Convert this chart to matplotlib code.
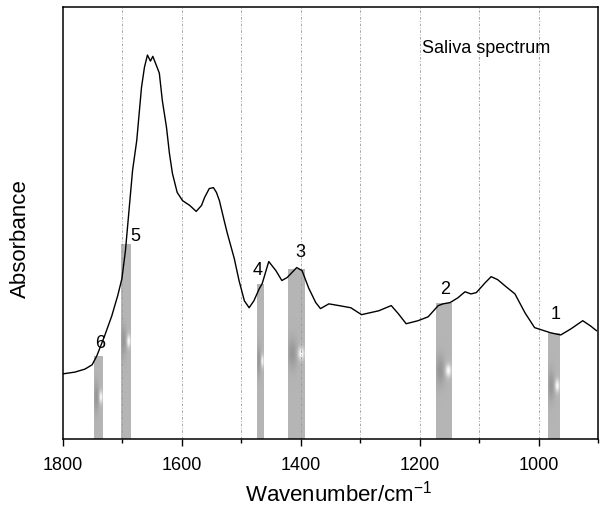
import matplotlib
matplotlib.use("Agg")
import matplotlib.pyplot as plt
import numpy as np

plt.rcParams['font.family'] = ['Liberation Sans', 'DejaVu Sans']

# saliva FTIR spectrum
wavenumber = [1800, 1780, 1763, 1751, 1743, 1730, 1718, 1708, 1701, 1695,
              1688, 1683, 1676, 1668, 1663, 1658, 1653, 1649, 1643, 1638,
              1633, 1626, 1621, 1616, 1608, 1599, 1587, 1576, 1567, 1562,
              1554, 1547, 1542, 1537, 1529, 1524, 1512, 1504, 1495, 1487,
              1479, 1470, 1465, 1454, 1442, 1432, 1423, 1407, 1398, 1387,
              1375, 1367, 1353, 1336, 1316, 1298, 1269, 1248, 1236, 1223,
              1203, 1186, 1169, 1161, 1149, 1136, 1124, 1114, 1105, 1090,
              1080, 1069, 1057, 1040, 1023, 1007, 980, 963, 946, 926,
              913, 903]
absorbance = [0.151, 0.155, 0.162, 0.172, 0.193, 0.239, 0.285, 0.332, 0.371, 0.436,
              0.545, 0.622, 0.691, 0.814, 0.861, 0.889, 0.875, 0.886, 0.865, 0.847,
              0.784, 0.722, 0.661, 0.615, 0.571, 0.552, 0.541, 0.527, 0.541, 0.559,
              0.580, 0.582, 0.571, 0.552, 0.506, 0.478, 0.418, 0.367, 0.320, 0.304,
              0.320, 0.348, 0.360, 0.411, 0.390, 0.367, 0.374, 0.397, 0.390, 0.350,
              0.316, 0.302, 0.313, 0.309, 0.304, 0.288, 0.297, 0.309, 0.290, 0.267,
              0.274, 0.283, 0.309, 0.313, 0.316, 0.327, 0.341, 0.336, 0.339, 0.362,
              0.376, 0.369, 0.355, 0.336, 0.292, 0.258, 0.246, 0.241, 0.255, 0.274,
              0.262, 0.251]

# marked bands: label, high / low wavenumber edge, bar height
band_labels = ['6', '5', '4', '3', '2', '1']
band_hi = [1748, 1702, 1474, 1421, 1173, 985]
band_lo = [1733, 1686, 1463, 1394, 1147, 965]
band_top = [0.193, 0.452, 0.360, 0.394, 0.316, 0.246]
label_offset = [(1, 9), (7, 5), (-1.5, 9.5), (3, 11.5), (1, 9.5), (1.5, 13.5)]

fig = plt.figure(figsize=(6, 5.07), dpi=100)
ax = fig.add_axes([0.105, 0.134, 0.892, 0.852])

# grey bars with a little highlight glint in the middle
for lab, hi, lo, top, off in zip(band_labels, band_hi, band_lo, band_top, label_offset):
    bar = ax.bar((hi + lo) / 2, top, width=hi - lo, bottom=0,
                 color='#b5b5b5', linewidth=0, zorder=1)[0]
    u = np.linspace(0, 1, 40)[None, :]
    v = np.linspace(0, top, 300)[:, None] - top / 2
    g = (0.71
         + 0.29 * np.exp(-((u - 0.78) / 0.18) ** 2 - (v / 0.014) ** 2)
         - 0.12 * np.exp(-((u - 0.25) / 0.3) ** 2 - (v / 0.035) ** 2))
    g = np.clip(g, 0, 1)
    img = np.dstack([g, g, g])
    im = ax.imshow(img, extent=[hi, lo, 0, top], origin='lower',
                   aspect='auto', interpolation='bilinear', zorder=1.5)
    im.set_clip_path(bar)
    ax.annotate(lab, xy=((hi + lo) / 2, top), xytext=off,
                textcoords='offset points', ha='center', va='center',
                fontsize=13, zorder=4)

ax.plot(wavenumber, absorbance, color='black', lw=1.0, zorder=3)

for w in range(1000, 1800, 100):
    ax.axvline(w, color='#999999', lw=0.6, ls=(0, (3, 2, 1, 2)), zorder=2)

ax.set_xlim(1800, 900)
ax.set_ylim(0, 1)
ax.set_xticks([1800, 1600, 1400, 1200, 1000])
ax.set_xticks([1700, 1500, 1300, 1100, 900], minor=True)
ax.set_yticks([])
ax.tick_params(axis='x', which='major', direction='out', length=5,
               width=1.0, labelsize=13, pad=8)
ax.tick_params(axis='x', which='minor', direction='out', length=3, width=1.0)
for s in ax.spines.values():
    s.set_linewidth(1.1)

ax.set_xlabel('Wavenumber/cm$\\mathregular{^{-1}}$', fontsize=16)
ax.xaxis.set_label_coords(0.515, -0.126)
ax.xaxis.label.set_va('center')
ax.set_ylabel('Absorbance', fontsize=16)
ax.yaxis.set_label_coords(-0.080, 0.465)
ax.yaxis.label.set_va('center')

ax.text(0.671, 0.903, 'Saliva spectrum', transform=ax.transAxes,
        fontsize=13, ha='left', va='center')

fig.savefig('out.png', dpi=100)
